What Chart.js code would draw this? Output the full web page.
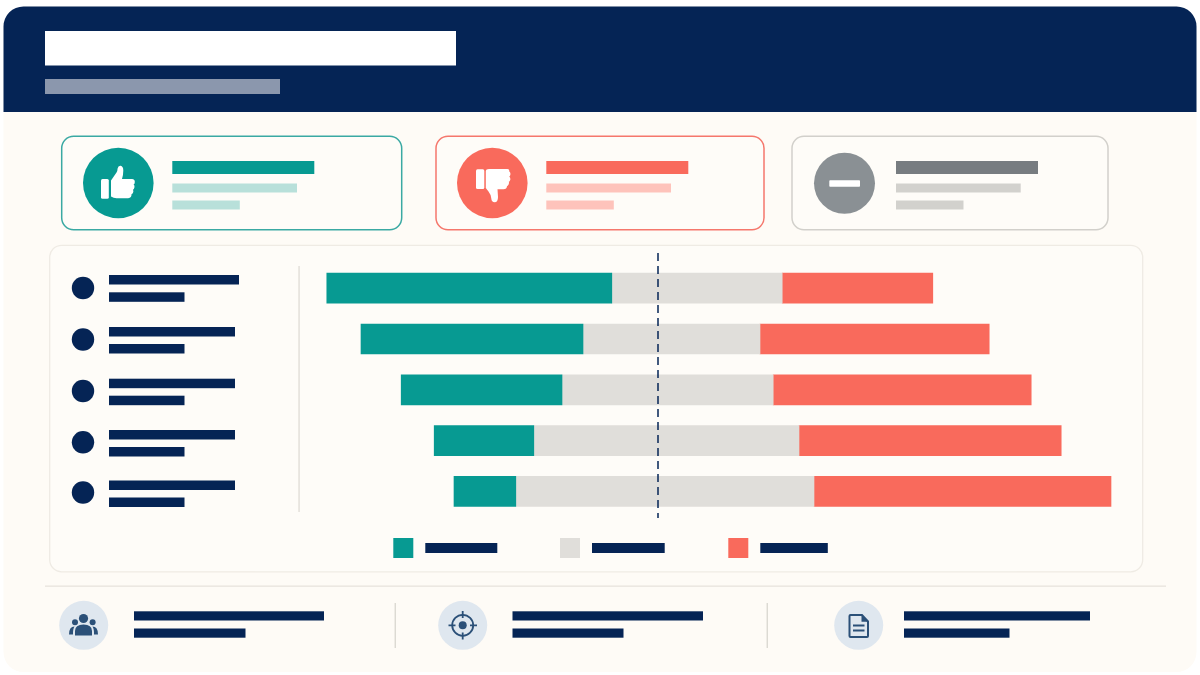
<!DOCTYPE html>
<html>
<head>
<meta charset="utf-8">
<style>
html,body{margin:0;padding:0;background:#fff;width:1200px;height:675px;overflow:hidden}
#decor,#chart{position:absolute;left:0;top:0;display:block}
</style>
<script src="https://cdn.jsdelivr.net/npm/chart.js@4"></script>
</head>
<body>
<svg id="decor" width="1200" height="675" viewBox="0 0 1200 675" xmlns="http://www.w3.org/2000/svg">
  <!-- page card and header -->
  <rect x="3.5" y="6.5" width="1193" height="665.5" rx="20" fill="#fefbf6"/>
  <path d="M3.5 112V26.5a20 20 0 0 1 20-20H1176.5a20 20 0 0 1 20 20V112Z" fill="#052455"/>
  <rect x="45" y="31" width="411" height="34.5" fill="#fff"/>
  <rect x="45" y="79" width="235" height="15" fill="#8b97ad"/>

  <!-- summary cards -->
  <rect x="61.7" y="136.2" width="340" height="93.5" rx="12" fill="#fefcf8" stroke="#3aa9a3" stroke-width="1.5"/>
  <circle cx="118.3" cy="183" r="35.3" fill="#079a92"/>
  <rect x="101" y="179" width="7.8" height="19.8" rx="1.5" fill="#fff"/>
  <path d="M111 180.5 L116.5 172.5 Q117.6 170.5 117.6 168.5 Q118.2 165.5 120.6 165.8 Q123.3 166.4 123.3 170.5 Q123.3 175 122 179 L132 179 Q135 179.3 134.8 182 Q134.8 184 133.6 184.6 Q135 185.6 134.4 187.6 Q134 189.3 133 189.7 Q133.8 191 133 192.8 Q132.4 194 131.5 194.3 Q131.8 197.8 128.2 198.3 L116.5 198.3 Q113.5 198.2 111 196.5 Z" fill="#fff"/>
  <rect x="172.3" y="161" width="142" height="13" fill="#079a92"/>
  <rect x="172.3" y="183.5" width="124.7" height="9" fill="#b8e0da"/>
  <rect x="172.3" y="200.5" width="67.5" height="9" fill="#b8e0da"/>

  <rect x="436" y="136.2" width="328" height="93.5" rx="12" fill="#fefcf8" stroke="#f5776c" stroke-width="1.5"/>
  <circle cx="492.3" cy="183" r="35.3" fill="#f96a5c"/>
  <rect x="476" y="169.3" width="8.3" height="19.8" rx="1.5" fill="#fff"/>
  <path d="M485.8 171 Q486 169 489 169 L507.5 169 Q509.5 169.2 509.3 171.5 Q510.7 172.5 510.4 174.5 Q510.2 176 509.3 176.5 Q510.8 178 510.2 180 Q509.8 181.4 508.8 181.8 Q509.3 183 508.6 184.6 Q508 186 507 186.2 Q506.8 189.2 503.5 189.3 L497.5 189.3 L498 197 Q498 202.3 494.6 202.3 Q491.6 202.3 491.3 198.5 Q491 194.5 488.5 191.5 L485.8 188 Z" fill="#fff"/>
  <rect x="546.3" y="161" width="142" height="13" fill="#f96a5c"/>
  <rect x="546.3" y="183.5" width="124.7" height="9" fill="#fec3bb"/>
  <rect x="546.3" y="200.5" width="67.5" height="9" fill="#fec3bb"/>

  <rect x="792" y="136.2" width="316" height="93.5" rx="12" fill="#fefcf8" stroke="#d2d0cb" stroke-width="1.5"/>
  <circle cx="844.5" cy="183.3" r="30.5" fill="#8a9094"/>
  <rect x="829.3" y="180.3" width="30.7" height="6.4" rx="0.8" fill="#fff"/>
  <rect x="896" y="161" width="142" height="13" fill="#777c80"/>
  <rect x="896" y="183.5" width="124.7" height="9" fill="#d2d1cd"/>
  <rect x="896" y="200.5" width="67.5" height="9" fill="#d2d1cd"/>

  <!-- chart panel -->
  <rect x="49.7" y="245.3" width="1093" height="326.5" rx="12" fill="#fefcf8" stroke="#efebe4" stroke-width="1.3"/>

  <!-- row labels (blocked out in the reference) -->
  <g fill="#052455">
    <circle cx="83" cy="288" r="11.2"/><rect x="109" y="275" width="130" height="9.5"/><rect x="109" y="292.3" width="75.5" height="9.5"/>
    <circle cx="83" cy="339.5" r="11.2"/><rect x="109" y="327" width="126" height="9.5"/><rect x="109" y="344" width="75.5" height="9.5"/>
    <circle cx="83" cy="391" r="11.2"/><rect x="109" y="378.7" width="126" height="9.5"/><rect x="109" y="395.7" width="75.5" height="9.5"/>
    <circle cx="83" cy="442.3" r="11.2"/><rect x="109" y="430" width="126" height="9.5"/><rect x="109" y="447" width="75.5" height="9.5"/>
    <circle cx="83" cy="492.5" r="11.2"/><rect x="109" y="480.5" width="126" height="9.5"/><rect x="109" y="497.5" width="75.5" height="9.5"/>
  </g>
  <rect x="298.4" y="266" width="1.3" height="246" fill="#dfdcd6"/>

  <!-- legend -->
  <rect x="393.3" y="538" width="20" height="20" fill="#079a92"/>
  <rect x="425.3" y="543" width="72" height="10" fill="#052455"/>
  <rect x="560" y="538" width="20" height="20" fill="#e0deda"/>
  <rect x="592" y="543" width="72.7" height="10" fill="#052455"/>
  <rect x="728.3" y="538" width="20" height="20" fill="#f96a5c"/>
  <rect x="760.3" y="543" width="67.5" height="10" fill="#052455"/>

  <!-- footer -->
  <rect x="45" y="585.5" width="1121" height="1.3" fill="#e8e3dc"/>
  <rect x="394.6" y="603" width="1.3" height="45" fill="#d9d6d0"/>
  <rect x="766.6" y="603" width="1.3" height="45" fill="#d9d6d0"/>

  <circle cx="83.7" cy="625.3" r="24.5" fill="#dfe7ef"/>
  <g fill="#2b5078">
    <circle cx="83.5" cy="618.5" r="4.6"/>
    <path d="M75 635.5 V631 Q75 624.5 83.5 624.5 Q92 624.5 92 631 V635.5 Z"/>
    <circle cx="75" cy="622.3" r="3"/>
    <circle cx="92.6" cy="622.3" r="3"/>
    <path d="M69 634.5 Q69 626.5 74.5 626.5 Q72.8 629 73 634.5 Z"/>
    <path d="M98 634.5 Q98 626.5 92.5 626.5 Q94.2 629 94 634.5 Z"/>
  </g>
  <rect x="134" y="611.3" width="190" height="9.2" fill="#052455"/>
  <rect x="134" y="628.5" width="111.5" height="9.2" fill="#052455"/>

  <circle cx="462.7" cy="625.3" r="24.5" fill="#dfe7ef"/>
  <g fill="none" stroke="#2b5078" stroke-width="1.8">
    <circle cx="462.7" cy="625.3" r="10.5"/>
    <path d="M462.7 611V618 M462.7 632.6V639.6 M448.5 625.3H455.5 M470 625.3H477"/>
  </g>
  <circle cx="462.7" cy="625.3" r="4" fill="#2b5078"/>
  <rect x="512.5" y="611.3" width="190.5" height="9.2" fill="#052455"/>
  <rect x="512.5" y="628.5" width="111" height="9.2" fill="#052455"/>

  <circle cx="858.7" cy="625.3" r="24.5" fill="#dfe7ef"/>
  <path d="M850.5 615 H862 L868 621.5 V636 Q868 637 867 637 H850.5 Q849.5 637 849.5 636 V616 Q849.5 615 850.5 615 Z" fill="none" stroke="#2b5078" stroke-width="2"/>
  <path d="M861.5 615 L868 621.8 H861.5 Z" fill="#2b5078"/>
  <rect x="853" y="624.5" width="11.5" height="2" fill="#2b5078"/>
  <rect x="853" y="629.5" width="11.5" height="2" fill="#2b5078"/>
  <rect x="904" y="611.3" width="186" height="9.2" fill="#052455"/>
  <rect x="904" y="628.5" width="105.5" height="9.2" fill="#052455"/>
</svg>
<canvas id="chart" width="1200" height="675"></canvas>
<script>
// Rows, top to bottom (row names are blocked out in the reference)
const categories = ["Row 1", "Row 2", "Row 3", "Row 4", "Row 5"];
// Where the neutral segment begins, relative to the midline (axis units)
const neutralStart = [-7.7, -12.5, -16.0, -20.7, -23.7];
// Segment lengths (axis units)
const favorable    = [47.5, 37.0, 26.8, 16.6, 10.3];
const neutral      = [28.4, 29.5, 35.2, 44.2, 49.7];
const unfavorable  = [25.1, 38.2, 43.0, 43.7, 49.5];

const TEAL = "#079a92", GREY = "#e0deda", CORAL = "#f96a5c", NAVY = "#052455";

const favorableBars   = categories.map((_, i) => [neutralStart[i] - favorable[i], neutralStart[i]]);
const neutralBars     = categories.map((_, i) => [neutralStart[i], neutralStart[i] + neutral[i]]);
const unfavorableBars = categories.map((_, i) => [neutralStart[i] + neutral[i], neutralStart[i] + neutral[i] + unfavorable[i]]);

const midline = {
  id: "midline",
  afterDatasetsDraw(chart) {
    const x = chart.scales.x.getPixelForValue(0);
    const c = chart.ctx;
    c.save();
    c.strokeStyle = NAVY;
    c.lineWidth = 1.5;
    c.setLineDash([8, 5]);
    c.beginPath();
    c.moveTo(x, 253);
    c.lineTo(x, 518);
    c.stroke();
    c.restore();
  }
};

new Chart(document.getElementById("chart"), {
  type: "bar",
  data: {
    labels: categories,
    datasets: [
      { label: "Favorable", data: favorableBars, backgroundColor: TEAL },
      { label: "Neutral", data: neutralBars, backgroundColor: GREY },
      { label: "Unfavorable", data: unfavorableBars, backgroundColor: CORAL }
    ]
  },
  options: {
    indexAxis: "y",
    responsive: false,
    animation: false,
    events: [],
    layout: { padding: { left: 298, right: 62, top: 262.8, bottom: 158.2 } },
    datasets: { bar: { grouped: false, barThickness: 30, borderWidth: 0 } },
    scales: {
      x: { min: -60, max: 80, display: false },
      y: { display: false }
    },
    plugins: { legend: { display: false }, tooltip: { enabled: false }, title: { display: false } }
  },
  plugins: [midline]
});
</script>
</body>
</html>
